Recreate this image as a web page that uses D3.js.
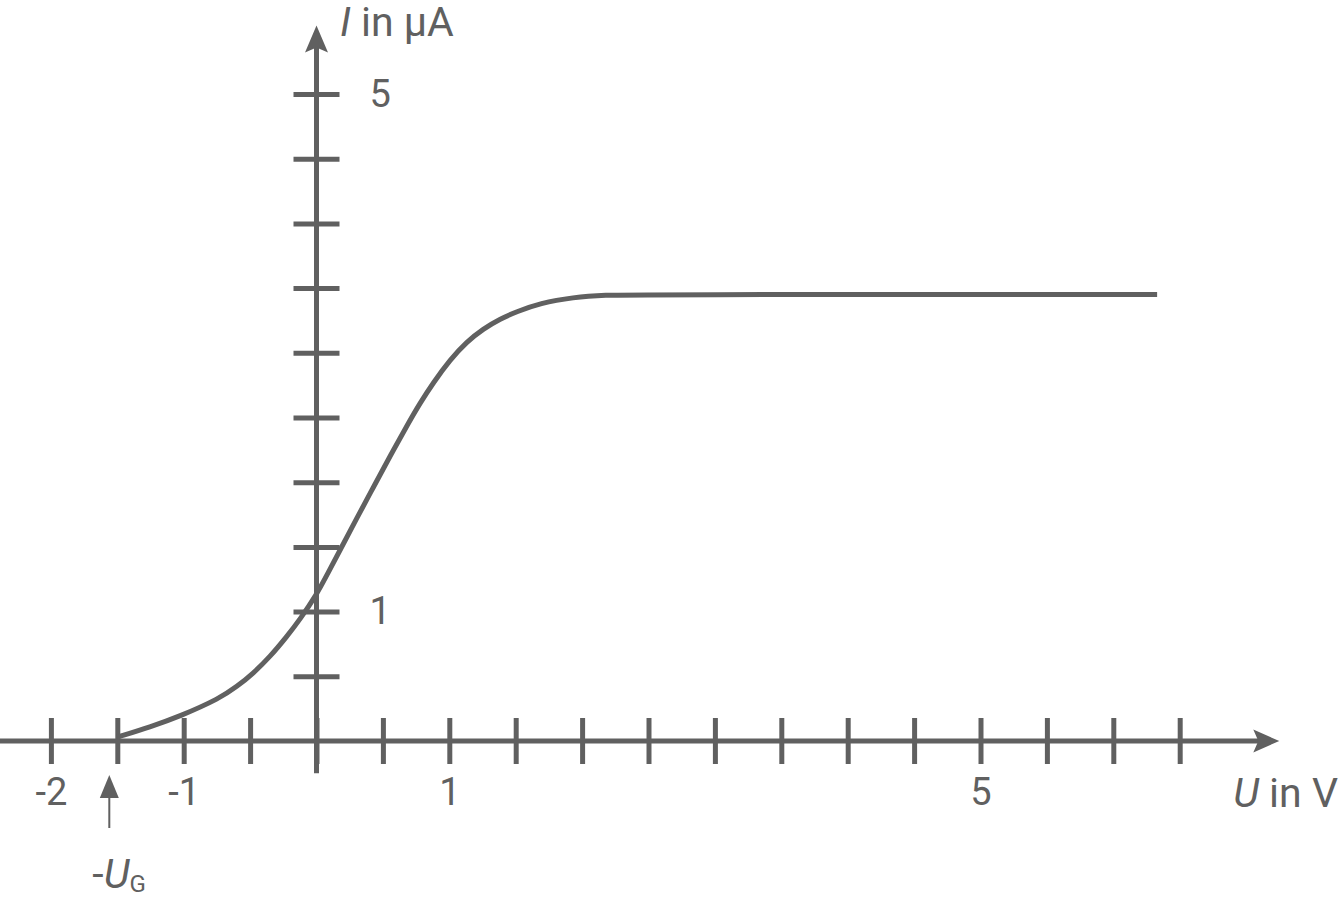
<!DOCTYPE html>
<html>
<head>
<meta charset="utf-8">
<script src="https://cdn.jsdelivr.net/npm/d3@7"></script>
<style>
  html, body { margin: 0; padding: 0; background: #fff; }
  svg { display: block; }
  text { font-family: Roboto, "Noto Sans", sans-serif; fill: #606060; }
</style>
</head>
<body>
<svg id="chart" width="1340" height="906"></svg>
<script>
// ---- data ----
const voltage = [-1.5, -1.25, -1.03, -0.727, -0.60, -0.476, -0.35, -0.224, -0.124, 0, 0.077, 0.19, 0.30, 0.428, 0.553, 0.691, 0.779, 0.88, 1.005, 1.131, 1.256, 1.38, 1.507, 1.683, 1.93, 2.185, 2.4, 6.33];
const current = [0.03, 0.11, 0.19, 0.33, 0.42, 0.523, 0.651, 0.806, 0.94, 1.13, 1.28, 1.50, 1.715, 1.96, 2.20, 2.455, 2.61, 2.77, 2.945, 3.085, 3.185, 3.26, 3.318, 3.383, 3.429, 3.447, 3.45, 3.45];
const xTicks = [-2, -1.5, -1, -0.5, 0, 0.5, 1, 1.5, 2, 2.5, 3, 3.5, 4, 4.5, 5, 5.5, 6, 6.5];
const xTickLabels = [-2, -1, 1, 5];
const yTicks = [0.5, 1, 1.5, 2, 2.5, 3, 3.5, 4, 4.5, 5];
const yTickLabels = [1, 5];
const xAxisExtent = [-2.385, 7.25];
const yAxisExtent = [-0.25, 5.53];
const gateVoltage = -1.5;

const col = "#606060";
const svg = d3.select("#chart");

const x = d3.scaleLinear().domain([-2, 6.5]).range([50.9, 1179.7]);
const y = d3.scaleLinear().domain([0, 5]).range([741, 94]);
const half = 23;

// x axis ticks + labels
const xg = svg.append("g").attr("transform", `translate(0,${y(0) - half})`)
  .call(d3.axisBottom(x).tickValues(xTicks).tickSize(2 * half).tickSizeOuter(0).tickPadding(14)
    .tickFormat(d => xTickLabels.includes(d) ? d3.format("d")(d).replace("−", "-") : ""));
xg.select(".domain").remove();
xg.selectAll(".tick line").attr("stroke", col).attr("stroke-width", 5);
xg.selectAll(".tick text").attr("font-size", 38).style("fill", col).attr("font-family", "Roboto");

// y axis ticks + labels
const yg = svg.append("g").attr("transform", `translate(${x(0) - half},0)`)
  .call(d3.axisRight(y).tickValues(yTicks).tickSize(2 * half).tickSizeOuter(0).tickPadding(30)
    .tickFormat(d => yTickLabels.includes(d) ? d3.format("d")(d) : ""));
yg.select(".domain").remove();
yg.selectAll(".tick line").attr("stroke", col).attr("stroke-width", 5);
yg.selectAll(".tick text").attr("font-size", 38).style("fill", col).attr("font-family", "Roboto");

// axis lines
svg.append("line").attr("x1", x(xAxisExtent[0])).attr("x2", x(xAxisExtent[1]) - 20)
  .attr("y1", y(0)).attr("y2", y(0)).attr("stroke", col).attr("stroke-width", 5);
svg.append("line").attr("x1", x(0)).attr("x2", x(0))
  .attr("y1", y(yAxisExtent[0])).attr("y2", y(yAxisExtent[1]) + 20).attr("stroke", col).attr("stroke-width", 5);

// arrowheads
const xt = x(xAxisExtent[1]), yt = y(yAxisExtent[1]);
svg.append("path").attr("fill", col)
  .attr("d", `M${xt},${y(0)} L${xt - 26},${y(0) - 11.5} L${xt - 21},${y(0)} L${xt - 26},${y(0) + 11.5} Z`);
svg.append("path").attr("fill", col)
  .attr("d", `M${x(0)},${yt} L${x(0) - 11.5},${yt + 27} L${x(0)},${yt + 22} L${x(0) + 11.5},${yt + 27} Z`);

// curve
const pts = voltage.map((u, i) => [u, current[i]]);
svg.append("path").datum(pts)
  .attr("fill", "none").attr("stroke", col).attr("stroke-width", 5).attr("stroke-linecap", "butt")
  .attr("d", d3.line().x(d => x(d[0])).y(d => y(d[1])).curve(d3.curveBasis));

// axis labels
const xl = svg.append("text").attr("x", 1338).attr("y", 807).attr("text-anchor", "end").attr("font-size", 41);
xl.append("tspan").attr("font-style", "italic").text("U");
xl.append("tspan").text(" in V");

const yl = svg.append("text").attr("x", 340).attr("y", 36).attr("font-size", 41);
yl.append("tspan").attr("font-style", "italic").text("I");
yl.append("tspan").text(" in µA");

// -U_G marker
const gx = x(gateVoltage) - 8;
svg.append("line").attr("x1", gx).attr("x2", gx).attr("y1", 828).attr("y2", 795)
  .attr("stroke", col).attr("stroke-width", 2);
svg.append("path").attr("fill", col)
  .attr("d", `M${gx},775 L${gx - 9.5},798 L${gx + 9.5},798 Z`);
const gl = svg.append("text").attr("x", gx - 17).attr("y", 888).attr("font-size", 41);
gl.append("tspan").text("-");
gl.append("tspan").attr("font-style", "italic").text("U");
gl.append("tspan").attr("font-size", 24).attr("dy", 4).text("G");
</script>
</body>
</html>
